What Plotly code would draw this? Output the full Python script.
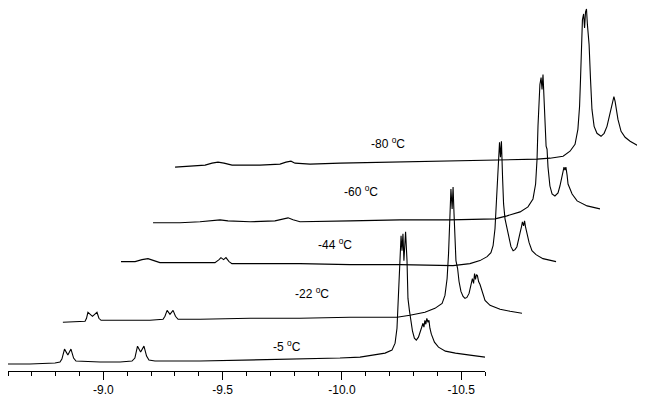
import plotly.graph_objects as go

# ---------------- data ----------------
temps = ["-5", "-22", "-44", "-60", "-80"]

ppm_m5 = [-8.600, -8.692, -8.797, -8.818, -8.826, -8.837, -8.851, -8.864, -8.875, -8.885,
          -8.986, -9.070, -9.120, -9.132, -9.143, -9.156, -9.170, -9.181, -9.191, -9.216,
          -9.405, -9.615, -9.824, -9.992, -10.076, -10.139, -10.181, -10.210, -10.223, -10.231,
          -10.237, -10.242, -10.248, -10.252, -10.256, -10.260, -10.267, -10.273, -10.277, -10.283,
          -10.287, -10.296, -10.304, -10.312, -10.321, -10.329, -10.335, -10.340, -10.344, -10.348,
          -10.352, -10.356, -10.361, -10.365, -10.369, -10.375, -10.388, -10.405, -10.434, -10.476,
          -10.537, -10.600]
int_m5 = [7, 7, 8, 9, 12, 22, 16, 22, 13, 10,
          9, 9, 10, 13, 25, 19, 25, 15, 11, 10,
          10, 11, 12, 13, 14, 16, 18, 21, 28, 43,
          73, 108, 136, 121, 138, 111, 140, 111, 73, 61,
          55, 40, 33, 31, 34, 40, 45, 48, 44, 51,
          47, 53, 49, 51, 43, 37, 29, 24, 20, 18,
          16, 14]

ppm_m22 = [-8.675, -8.768, -8.774, -8.780, -8.799, -8.818, -8.826, -8.835, -8.914, -9.040,
           -9.095, -9.103, -9.112, -9.124, -9.137, -9.147, -9.158, -9.250, -9.460, -9.669,
           -9.879, -10.076, -10.130, -10.193, -10.235, -10.265, -10.277, -10.286, -10.292, -10.298,
           -10.302, -10.307, -10.311, -10.315, -10.319, -10.323, -10.330, -10.336, -10.344, -10.353,
           -10.361, -10.369, -10.378, -10.386, -10.392, -10.397, -10.401, -10.405, -10.409, -10.413,
           -10.418, -10.424, -10.432, -10.445, -10.466, -10.508, -10.550, -10.600]
int_m22 = [7, 8, 11, 17, 13, 17, 11, 9, 9, 9,
           10, 13, 19, 15, 19, 13, 10, 10, 11, 11,
           12, 12, 14, 17, 21, 26, 34, 51, 76, 116,
           141, 121, 143, 116, 81, 69, 61, 48, 38, 33,
           31, 32, 36, 44, 51, 46, 56, 50, 55, 54,
           48, 45, 39, 29, 24, 20, 18, 16]

ppm_m44 = [-8.772, -8.831, -8.860, -8.885, -8.910, -8.935, -9.103, -9.166, -9.183, -9.191,
           -9.202, -9.212, -9.225, -9.237, -9.355, -9.522, -9.732, -9.942, -10.164, -10.235,
           -10.277, -10.307, -10.323, -10.332, -10.340, -10.346, -10.351, -10.355, -10.359, -10.363,
           -10.367, -10.372, -10.376, -10.382, -10.390, -10.399, -10.407, -10.416, -10.424, -10.432,
           -10.441, -10.447, -10.451, -10.455, -10.460, -10.464, -10.468, -10.474, -10.483, -10.495,
           -10.512, -10.541, -10.571, -10.596]
int_m44 = [7, 7, 9, 10, 8, 6, 6, 6, 9, 11,
           9, 11, 7, 5, 5, 5, 4, 4, 3, 5,
           8, 12, 16, 23, 40, 70, 100, 120, 127, 112,
           128, 90, 65, 50, 42, 30, 22, 18, 19, 22,
           30, 38, 42, 47, 43, 48, 42, 34, 26, 18,
           14, 10, 8, 7]

ppm_m60 = [-8.726, -8.839, -8.923, -8.977, -9.007, -9.040, -9.133, -9.237, -9.275, -9.292,
           -9.313, -9.342, -9.552, -9.761, -9.971, -10.160, -10.210, -10.265, -10.298, -10.319,
           -10.330, -10.336, -10.340, -10.344, -10.348, -10.353, -10.357, -10.361, -10.365, -10.369,
           -10.374, -10.378, -10.382, -10.390, -10.399, -10.411, -10.424, -10.432, -10.441, -10.445,
           -10.449, -10.453, -10.457, -10.462, -10.466, -10.483, -10.504, -10.546, -10.600]
int_m60 = [7, 7, 8, 9, 10, 9, 8, 9, 11, 12,
           10, 8, 9, 10, 10, 11, 14, 18, 23, 31,
           46, 71, 104, 131, 146, 153, 141, 156, 136, 106,
           84, 81, 63, 44, 36, 34, 37, 44, 54, 60,
           63, 60, 63, 55, 46, 36, 29, 24, 21]

ppm_m80 = [-8.638, -8.701, -8.764, -8.793, -8.818, -8.843, -8.877, -8.994, -9.078, -9.103,
           -9.124, -9.141, -9.204, -9.330, -9.581, -9.791, -10.000, -10.156, -10.210, -10.265,
           -10.294, -10.315, -10.327, -10.334, -10.338, -10.342, -10.346, -10.351, -10.355, -10.359,
           -10.363, -10.367, -10.374, -10.380, -10.386, -10.395, -10.407, -10.424, -10.437, -10.449,
           -10.457, -10.464, -10.470, -10.474, -10.478, -10.483, -10.487, -10.495, -10.508, -10.525,
           -10.546, -10.575, -10.600]
int_m80 = [7, 8, 9, 11, 12, 11, 9, 9, 10, 12,
           13, 11, 10, 11, 12, 13, 14, 15, 16, 18,
           23, 30, 45, 68, 95, 130, 155, 161, 147, 163,
           166, 150, 130, 95, 65, 48, 41, 38, 41, 48,
           57, 62, 71, 75, 78, 73, 67, 55, 43, 37,
           33, 29, 27]

# label anchor of each trace, in that trace's own ppm / intensity units
label_ppm = [-9.770, -9.719, -9.669, -9.598, -9.531]
label_int = [25, 36, 25, 39, 31]

major_ticks = [-9.0, -9.5, -10.0, -10.5]
major_text = ["-9.0", "-9.5", "-10.0", "-10.5"]

spectra_ppm = [ppm_m5, ppm_m22, ppm_m44, ppm_m60, ppm_m80]
spectra_int = [int_m5, int_m22, int_m44, int_m60, int_m80]

# ---------------- layout of the stacked plot ----------------
# the page body adds an 8 px margin, so the figure itself is 8 px smaller
W, H = 637, 389
ML, MB = 0, 24
PW, PH = W - ML, H - MB
SPAN_PX = 477
x_shift_px = [0, 37, 72, 115, 158]
y_shift_px = [0, 42, 103, 142, 198]
XRANGE = [-8.6, -10.6]
FONT = "Liberation Sans, Arial, sans-serif"

fig = go.Figure()
layout_axes = {}
annotations = []
for i in range(len(temps)):
    sfx = "" if i == 0 else str(i + 1)
    xa, ya = "x" + sfx, "y" + sfx
    fig.add_trace(go.Scatter(
        x=spectra_ppm[i], y=spectra_int[i], mode="lines",
        line=dict(color="black", width=1.1),
        xaxis=xa, yaxis=ya, hoverinfo="skip", showlegend=False,
        cliponaxis=False))
    dx, dy = x_shift_px[i], y_shift_px[i]
    xdict = dict(domain=[dx / PW, (dx + SPAN_PX) / PW], range=XRANGE,
                 anchor=ya, showgrid=False, zeroline=False)
    if i == 0:
        xdict.update(visible=True, showline=True, linecolor="black", linewidth=1,
                     ticks="outside", ticklen=8, tickwidth=1, tickcolor="black",
                     tickmode="array", tickvals=major_ticks, ticktext=major_text,
                     tickfont=dict(family=FONT, size=12, color="black"),
                     minor=dict(ticks="outside", ticklen=4, tickwidth=1,
                                tickcolor="black", tick0=-8.6, dtick=0.1,
                                showgrid=False))
    else:
        xdict.update(visible=False)
    ydict = dict(domain=[dy / PH, 1], range=[0, PH - dy], anchor=xa,
                 visible=False, showgrid=False, zeroline=False)
    layout_axes["xaxis" + sfx] = xdict
    layout_axes["yaxis" + sfx] = ydict
    annotations.append(dict(
        x=label_ppm[i], y=label_int[i], xref=xa, yref=ya,
        text=f"{temps[i]} <sup>o</sup>C", showarrow=False,
        font=dict(family=FONT, size=12, color="black"),
        xanchor="center", yanchor="middle"))

fig.update_layout(
    width=W, height=H,
    margin=dict(l=ML, r=W - ML - PW, t=0, b=MB, pad=0),
    paper_bgcolor="white", plot_bgcolor="rgba(0,0,0,0)",
    showlegend=False, hovermode=False,
    annotations=annotations,
    **layout_axes)

fig.write_html("out.html")
